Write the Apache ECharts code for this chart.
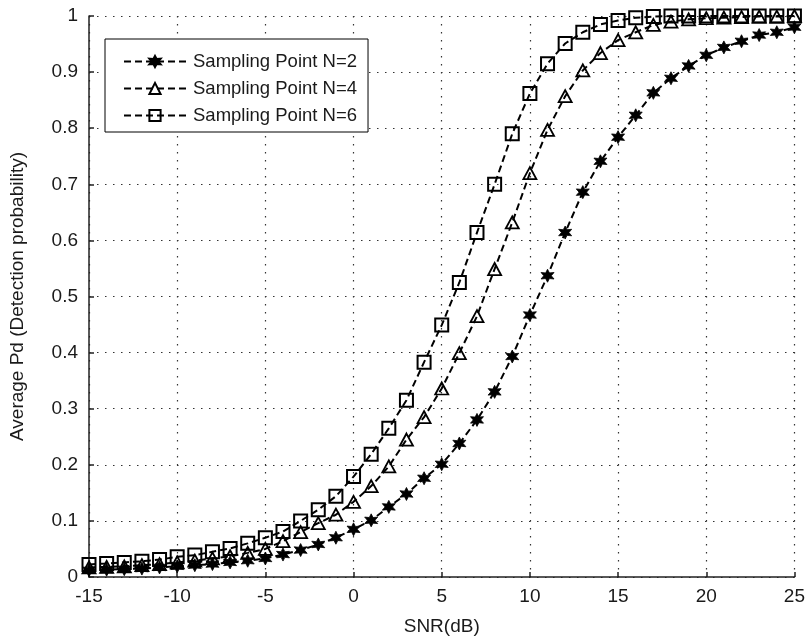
<!DOCTYPE html>
<html>
<head>
<meta charset="utf-8">
<script src="https://cdn.jsdelivr.net/npm/echarts@6/dist/echarts.min.js"></script>
<style>
  html, body { margin: 0; padding: 0; background: #fff; }
  #chart { width: 808px; height: 641px; }
</style>
</head>
<body>
<div id="chart"></div>
<script>
// SNR sweep in dB
const snr = [-15,-14,-13,-12,-11,-10,-9,-8,-7,-6,-5,-4,-3,-2,-1,0,1,2,3,4,5,6,7,8,9,10,11,12,13,14,15,16,17,18,19,20,21,22,23,24,25];

// Average detection probability for each number of sampling points
const pdN2 = [0.012,0.013,0.014,0.015,0.017,0.019,0.021,0.023,0.026,0.029,0.033,0.040,0.048,0.058,0.070,0.085,0.101,0.125,0.148,0.176,0.201,0.238,0.280,0.330,0.393,0.467,0.537,0.614,0.686,0.741,0.784,0.823,0.863,0.889,0.911,0.930,0.944,0.955,0.966,0.971,0.980];
const pdN4 = [0.017,0.018,0.019,0.021,0.023,0.026,0.029,0.033,0.037,0.043,0.050,0.064,0.080,0.096,0.111,0.134,0.162,0.197,0.245,0.285,0.336,0.399,0.465,0.549,0.632,0.720,0.797,0.857,0.903,0.934,0.957,0.971,0.984,0.990,0.994,0.996,0.997,0.998,0.999,0.999,1.000];
const pdN6 = [0.0225,0.024,0.026,0.028,0.031,0.036,0.039,0.045,0.051,0.060,0.070,0.081,0.100,0.120,0.144,0.179,0.219,0.265,0.315,0.383,0.449,0.525,0.614,0.700,0.790,0.862,0.915,0.951,0.971,0.985,0.992,0.997,0.999,1.000,1.000,1.000,1.000,1.000,1.000,1.000,1.000];

const seriesNames = ['Sampling Point N=2', 'Sampling Point N=4', 'Sampling Point N=6'];

// six-armed filled star marker
function starPath() {
  const pts = [];
  const outer = 10, inner = 5;
  for (let i = 0; i < 12; i++) {
    const r = i % 2 === 0 ? outer : inner;
    const a = -Math.PI / 2 + i * Math.PI / 6;
    pts.push((r * Math.cos(a)).toFixed(2) + ',' + (r * Math.sin(a)).toFixed(2));
  }
  return 'path://M' + pts.join('L') + 'Z';
}

const pair = ys => snr.map((x, i) => [x, ys[i]]);
const TEXT = '#1a1a1a';
const FONT = '"Liberation Sans", Arial, Helvetica, sans-serif';

function lineSeries(name, ys, symbol, size, fill, bw) {
  return {
    name: name,
    type: 'line',
    data: pair(ys),
    symbol: symbol,
    symbolSize: size,
    showAllSymbol: true,
    animation: false,
    lineStyle: { color: '#000', width: 2, type: [7, 4] },
    itemStyle: { color: fill, borderColor: '#000', borderWidth: bw }
  };
}

const chart = echarts.init(document.getElementById('chart'), null, { renderer: 'canvas' });
chart.setOption({
  backgroundColor: '#fff',
  animation: false,
  textStyle: { fontFamily: FONT, color: TEXT },
  grid: { left: 83, right: 11, top: 16, bottom: 62, containLabel: false },
  legend: {
    left: 105, top: 39,
    orient: 'vertical',
    data: seriesNames,
    itemWidth: 62, itemHeight: 14, itemGap: 8,
    padding: [13, 11, 7, 18],
    borderColor: '#000', borderWidth: 1, borderRadius: 0,
    backgroundColor: '#fff',
    textStyle: { fontFamily: FONT, fontSize: 18.5, color: TEXT, padding: [0, 0, 0, 2] }
  },
  xAxis: {
    type: 'value', min: -15, max: 25, interval: 5,
    name: 'SNR(dB)', nameLocation: 'middle', nameGap: 40,
    nameTextStyle: { fontFamily: FONT, fontSize: 19, color: TEXT },
    axisLine: { show: true, onZero: false, lineStyle: { color: '#222', width: 1.5 } },
    axisTick: { show: true, inside: true, length: 5, lineStyle: { color: '#222', width: 1.5 } },
    axisLabel: { fontFamily: FONT, fontSize: 19, color: TEXT, margin: 10 },
    splitLine: { show: true, lineStyle: { color: '#333', width: 1.2, type: [1.5, 6.5] } }
  },
  yAxis: {
    type: 'value', min: 0, max: 1, interval: 0.1,
    name: 'Average Pd (Detection probability)', nameLocation: 'middle', nameGap: 62,
    nameRotate: 90,
    nameTextStyle: { fontFamily: FONT, fontSize: 19, color: TEXT },
    axisLine: { show: true, onZero: false, lineStyle: { color: '#222', width: 1.5 } },
    axisTick: { show: true, inside: true, length: 5, lineStyle: { color: '#222', width: 1.5 } },
    axisLabel: { fontFamily: FONT, fontSize: 19, color: TEXT, margin: 11,
      formatter: v => String(+v.toFixed(1)) },
    splitLine: { show: true, lineStyle: { color: '#333', width: 1.2, type: [1.5, 6.5] } }
  },
  series: [
    lineSeries(seriesNames[0], pdN2, starPath(), 13, '#000', 0.8),
    lineSeries(seriesNames[1], pdN4, 'triangle', [13, 12], 'rgba(0,0,0,0)', 1.8),
    lineSeries(seriesNames[2], pdN6, 'rect', 13, 'rgba(0,0,0,0)', 2)
  ]
});
</script>
</body>
</html>
